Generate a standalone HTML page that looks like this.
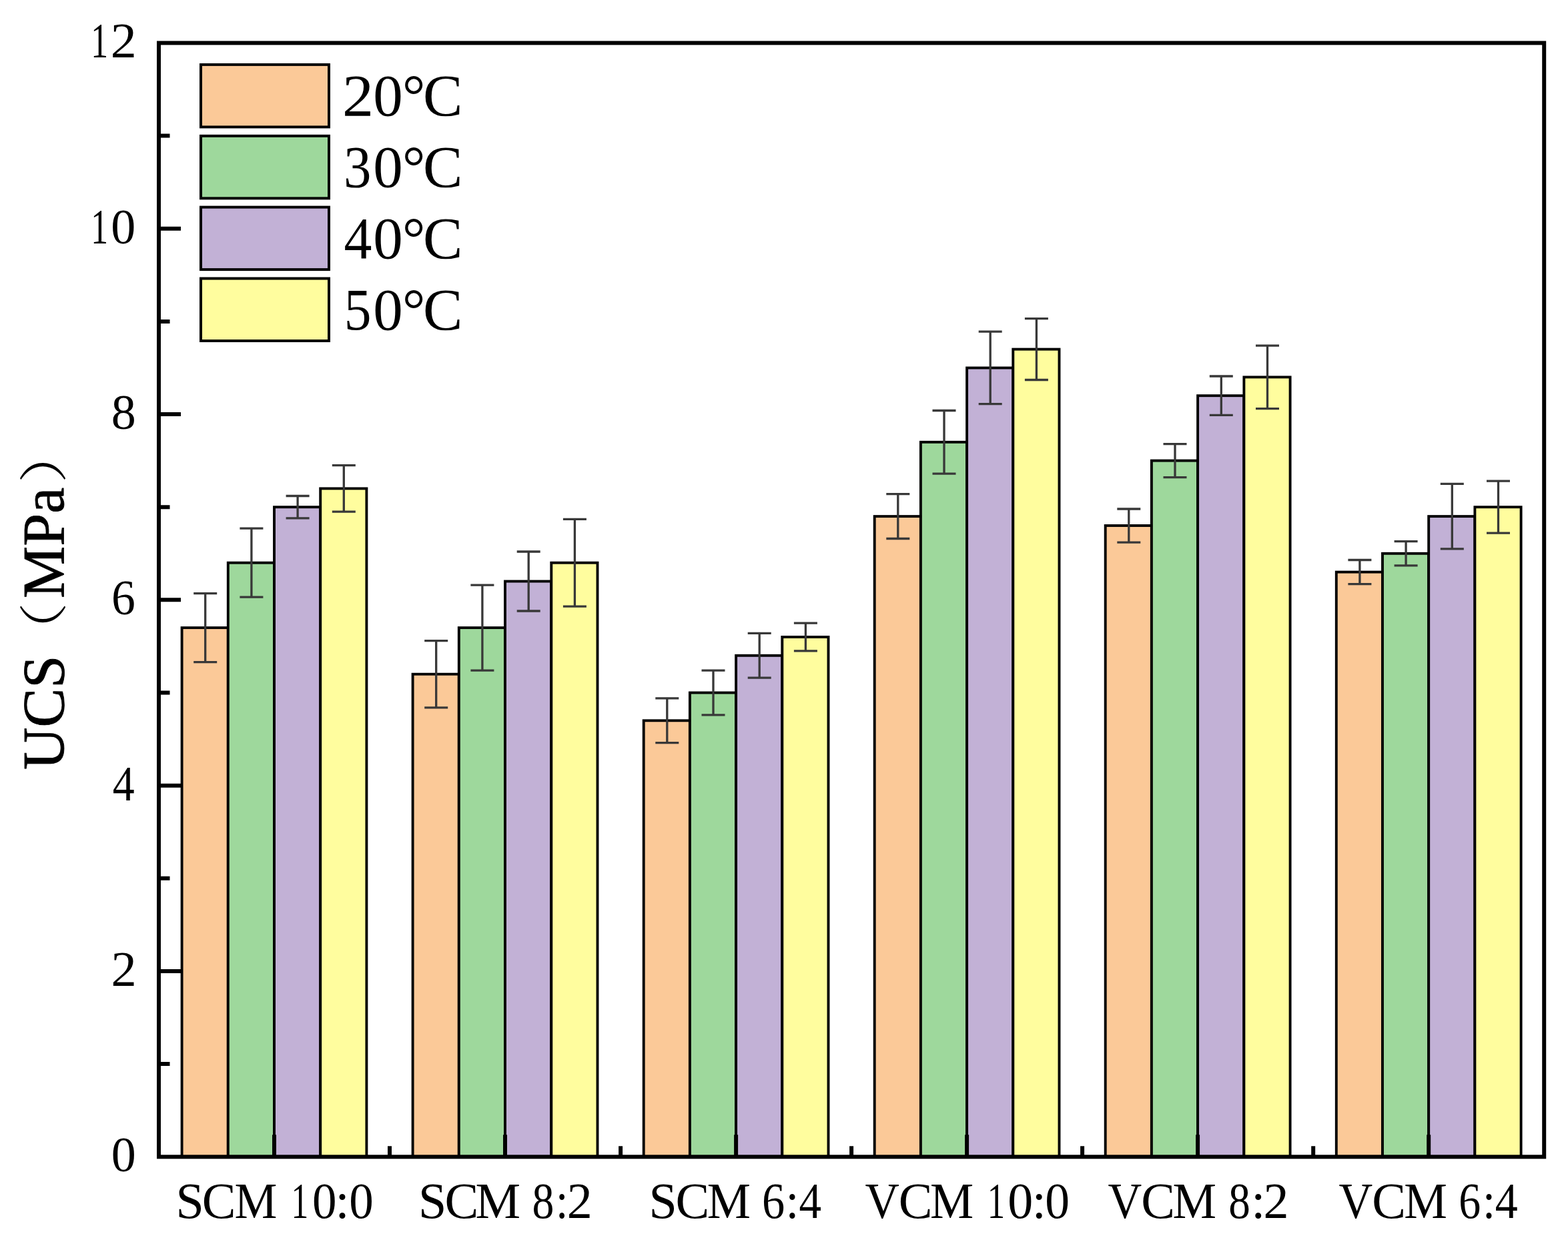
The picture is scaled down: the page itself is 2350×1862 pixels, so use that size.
<!DOCTYPE html>
<html><head><meta charset="utf-8"><title>UCS chart</title>
<style>html,body{margin:0;padding:0;background:#fff;width:2350px;height:1862px;overflow:hidden}svg{display:block}text{font-family:"Liberation Serif","Noto Serif CJK SC",serif;fill:#000}</style></head><body>
<svg width="2350" height="1862" viewBox="0 0 2350 1862">
<rect x="0" y="0" width="2350" height="1862" fill="#fff"/>
<g stroke="#000" stroke-width="3.9">
<rect x="272.6" y="941.1" width="69.2" height="793.2" fill="#fbc998"/>
<rect x="341.8" y="843.7" width="69.2" height="890.6" fill="#9ed89c"/>
<rect x="411.0" y="760.2" width="69.2" height="974.1" fill="#c2b1d6"/>
<rect x="480.2" y="732.4" width="69.2" height="1001.9" fill="#fffd9e"/>
<rect x="618.6" y="1010.7" width="69.2" height="723.6" fill="#fbc998"/>
<rect x="687.8" y="941.1" width="69.2" height="793.2" fill="#9ed89c"/>
<rect x="757.0" y="871.5" width="69.2" height="862.8" fill="#c2b1d6"/>
<rect x="826.3" y="843.7" width="69.2" height="890.6" fill="#fffd9e"/>
<rect x="964.7" y="1080.3" width="69.2" height="654.0" fill="#fbc998"/>
<rect x="1033.9" y="1038.5" width="69.2" height="695.8" fill="#9ed89c"/>
<rect x="1103.1" y="982.8" width="69.2" height="751.5" fill="#c2b1d6"/>
<rect x="1172.3" y="955.0" width="69.2" height="779.3" fill="#fffd9e"/>
<rect x="1310.7" y="774.1" width="69.2" height="960.2" fill="#fbc998"/>
<rect x="1379.9" y="662.8" width="69.2" height="1071.5" fill="#9ed89c"/>
<rect x="1449.1" y="551.5" width="69.2" height="1182.8" fill="#c2b1d6"/>
<rect x="1518.3" y="523.6" width="69.2" height="1210.7" fill="#fffd9e"/>
<rect x="1656.7" y="788.0" width="69.2" height="946.3" fill="#fbc998"/>
<rect x="1725.9" y="690.6" width="69.2" height="1043.7" fill="#9ed89c"/>
<rect x="1795.1" y="593.2" width="69.2" height="1141.1" fill="#c2b1d6"/>
<rect x="1864.4" y="565.4" width="69.2" height="1168.9" fill="#fffd9e"/>
<rect x="2002.8" y="857.6" width="69.2" height="876.7" fill="#fbc998"/>
<rect x="2072.0" y="829.8" width="69.2" height="904.5" fill="#9ed89c"/>
<rect x="2141.2" y="774.1" width="69.2" height="960.2" fill="#c2b1d6"/>
<rect x="2210.4" y="760.2" width="69.2" height="974.1" fill="#fffd9e"/>
</g>
<g stroke="#383838" stroke-width="3.3" fill="none">
<path d="M307.7 889.6V992.6M290.2 889.6H325.2M290.2 992.6H325.2"/>
<path d="M376.9 792.2V895.2M359.4 792.2H394.4M359.4 895.2H394.4"/>
<path d="M446.1 743.5V776.9M428.6 743.5H463.6M428.6 776.9H463.6"/>
<path d="M515.3 697.6V767.1M497.8 697.6H532.8M497.8 767.1H532.8"/>
<path d="M653.7 960.6V1060.8M636.2 960.6H671.2M636.2 1060.8H671.2"/>
<path d="M722.9 877.1V1005.1M705.4 877.1H740.4M705.4 1005.1H740.4"/>
<path d="M792.2 827.0V916.0M774.7 827.0H809.7M774.7 916.0H809.7"/>
<path d="M861.4 778.3V909.1M843.9 778.3H878.9M843.9 909.1H878.9"/>
<path d="M999.8 1046.9V1113.7M982.3 1046.9H1017.3M982.3 1113.7H1017.3"/>
<path d="M1069.0 1005.1V1071.9M1051.5 1005.1H1086.5M1051.5 1071.9H1086.5"/>
<path d="M1138.2 949.4V1016.2M1120.7 949.4H1155.7M1120.7 1016.2H1155.7"/>
<path d="M1207.4 934.1V975.9M1189.9 934.1H1224.9M1189.9 975.9H1224.9"/>
<path d="M1345.8 740.7V807.5M1328.3 740.7H1363.3M1328.3 807.5H1363.3"/>
<path d="M1415.0 615.5V710.1M1397.5 615.5H1432.5M1397.5 710.1H1432.5"/>
<path d="M1484.2 497.2V605.7M1466.7 497.2H1501.7M1466.7 605.7H1501.7"/>
<path d="M1553.4 477.7V569.5M1535.9 477.7H1570.9M1535.9 569.5H1570.9"/>
<path d="M1691.8 763.0V813.1M1674.3 763.0H1709.3M1674.3 813.1H1709.3"/>
<path d="M1761.0 665.6V715.7M1743.5 665.6H1778.5M1743.5 715.7H1778.5"/>
<path d="M1830.3 564.0V622.4M1812.8 564.0H1847.8M1812.8 622.4H1847.8"/>
<path d="M1899.5 518.1V612.7M1882.0 518.1H1917.0M1882.0 612.7H1917.0"/>
<path d="M2037.9 839.5V875.7M2020.4 839.5H2055.4M2020.4 875.7H2055.4"/>
<path d="M2107.1 811.7V847.9M2089.6 811.7H2124.6M2089.6 847.9H2124.6"/>
<path d="M2176.3 725.4V822.8M2158.8 725.4H2193.8M2158.8 822.8H2193.8"/>
<path d="M2245.5 721.2V799.2M2228.0 721.2H2263.0M2228.0 799.2H2263.0"/>
</g>
<g stroke="#000" stroke-width="6" fill="none">
<rect x="238.0" y="64.4" width="2076.2" height="1669.9"/>
<path d="M238.0 1595.1H254.5M238.0 1456.0H271.0M238.0 1316.8H254.5M238.0 1177.7H271.0M238.0 1038.5H254.5M238.0 899.3H271.0M238.0 760.2H254.5M238.0 621.0H271.0M238.0 481.9H254.5M238.0 342.7H271.0M238.0 203.6H254.5M411.0 1734.3V1701.3M757.0 1734.3V1701.3M1103.1 1734.3V1701.3M1449.1 1734.3V1701.3M1795.1 1734.3V1701.3M2141.2 1734.3V1701.3M584.0 1734.3V1718.3M930.1 1734.3V1718.3M1276.1 1734.3V1718.3M1622.1 1734.3V1718.3M1968.2 1734.3V1718.3"/>
</g>
<g font-size="74">
<text y="1756.2"><tspan x="166.8">0</tspan></text>
<text y="1477.9"><tspan x="166.6" textLength="38.2" lengthAdjust="spacingAndGlyphs">2</tspan></text>
<text y="1199.6"><tspan x="168.7" textLength="32.9" lengthAdjust="spacingAndGlyphs">4</tspan></text>
<text y="921.3"><tspan x="166.9" textLength="35.8" lengthAdjust="spacingAndGlyphs">6</tspan></text>
<text y="643.0"><tspan x="166.8">8</tspan></text>
<text y="364.6"><tspan x="136.3" textLength="25.8" lengthAdjust="spacingAndGlyphs">1</tspan><tspan x="166.3">0</tspan></text>
<text y="86.3"><tspan x="136.3" textLength="25.8" lengthAdjust="spacingAndGlyphs">1</tspan><tspan x="165.8" textLength="39.0" lengthAdjust="spacingAndGlyphs">2</tspan></text>
</g>
<g font-size="76">
<text y="1825.5"><tspan x="263.6">S</tspan><tspan x="302.7">C</tspan><tspan x="351.4" textLength="63.8" lengthAdjust="spacingAndGlyphs">M</tspan><tspan> </tspan><tspan x="436.4" textLength="25.8" lengthAdjust="spacingAndGlyphs">1</tspan><tspan x="467.9" textLength="36.5" lengthAdjust="spacingAndGlyphs">0</tspan><tspan x="502.6">:</tspan><tspan x="523.2" textLength="36.5" lengthAdjust="spacingAndGlyphs">0</tspan></text>
<text y="1825.5"><tspan x="626.9">S</tspan><tspan x="666.6">C</tspan><tspan x="712.5">M</tspan><tspan> </tspan><tspan x="797.4" textLength="32.9" lengthAdjust="spacingAndGlyphs">8</tspan><tspan x="833.0" textLength="18.4" lengthAdjust="spacingAndGlyphs">:</tspan><tspan x="849.8">2</tspan></text>
<text y="1825.5"><tspan x="972.6">S</tspan><tspan x="1012.6">C</tspan><tspan x="1059.7" textLength="65.3" lengthAdjust="spacingAndGlyphs">M</tspan><tspan> </tspan><tspan x="1142.0" textLength="34.2" lengthAdjust="spacingAndGlyphs">6</tspan><tspan x="1177.6" textLength="19.8" lengthAdjust="spacingAndGlyphs">:</tspan><tspan x="1197.5" textLength="33.5" lengthAdjust="spacingAndGlyphs">4</tspan></text>
<text y="1825.5"><tspan x="1296.6" textLength="51.3" lengthAdjust="spacingAndGlyphs">V</tspan><tspan x="1346.8">C</tspan><tspan x="1394.0" textLength="65.2" lengthAdjust="spacingAndGlyphs">M</tspan><tspan> </tspan><tspan x="1479.8" textLength="26.4" lengthAdjust="spacingAndGlyphs">1</tspan><tspan x="1510.3">0</tspan><tspan x="1546.7">:</tspan><tspan x="1566.2" textLength="36.8" lengthAdjust="spacingAndGlyphs">0</tspan></text>
<text y="1825.5"><tspan x="1660.6" textLength="50.7" lengthAdjust="spacingAndGlyphs">V</tspan><tspan x="1710.3">C</tspan><tspan x="1757.5" textLength="65.5" lengthAdjust="spacingAndGlyphs">M</tspan><tspan> </tspan><tspan x="1841.2" textLength="32.6" lengthAdjust="spacingAndGlyphs">8</tspan><tspan x="1875.3">:</tspan><tspan x="1893.4">2</tspan></text>
<text y="1825.5"><tspan x="2006.6" textLength="50.7" lengthAdjust="spacingAndGlyphs">V</tspan><tspan x="2056.2">C</tspan><tspan x="2104.2" textLength="64.7" lengthAdjust="spacingAndGlyphs">M</tspan><tspan> </tspan><tspan x="2186.2" textLength="33.0" lengthAdjust="spacingAndGlyphs">6</tspan><tspan x="2221.9" textLength="19.1" lengthAdjust="spacingAndGlyphs">:</tspan><tspan x="2240.8" textLength="34.0" lengthAdjust="spacingAndGlyphs">4</tspan></text>
</g>
<g stroke="#000" stroke-width="4">
<rect x="301" y="96.9" width="192" height="93.5" fill="#fbc998"/>
<rect x="301" y="203.8" width="192" height="93.5" fill="#9ed89c"/>
<rect x="301" y="310.6" width="192" height="93.5" fill="#c2b1d6"/>
<rect x="301" y="417.5" width="192" height="93.5" fill="#fffd9e"/>
</g>
<g font-size="89">
<text y="172.9"><tspan x="513.1" textLength="47.1" lengthAdjust="spacingAndGlyphs">2</tspan><tspan x="559.2">0</tspan><tspan x="603.0" textLength="34.4" lengthAdjust="spacingAndGlyphs">°</tspan><tspan x="633.9">C</tspan></text>
<text y="279.8"><tspan x="515.1" textLength="41.4" lengthAdjust="spacingAndGlyphs">3</tspan><tspan x="559.2">0</tspan><tspan x="603.0" textLength="34.4" lengthAdjust="spacingAndGlyphs">°</tspan><tspan x="633.9">C</tspan></text>
<text y="386.6"><tspan x="515.4" textLength="41.9" lengthAdjust="spacingAndGlyphs">4</tspan><tspan x="559.2">0</tspan><tspan x="603.0" textLength="34.4" lengthAdjust="spacingAndGlyphs">°</tspan><tspan x="633.9">C</tspan></text>
<text y="493.5"><tspan x="515.8" textLength="40.7" lengthAdjust="spacingAndGlyphs">5</tspan><tspan x="559.2">0</tspan><tspan x="603.0" textLength="34.4" lengthAdjust="spacingAndGlyphs">°</tspan><tspan x="633.9">C</tspan></text>
</g>
<g font-size="88" stroke="#000" stroke-width="0.8">
<text transform="translate(94.8 1154) rotate(-90)">UCS</text>
<text transform="translate(94.8 897) rotate(-90)">MPa</text>
</g>
<g font-size="73" font-weight="300" style="font-family:'Noto Serif CJK SC',serif">
<text transform="translate(91.5 990.6) rotate(-90) scale(1.2 1)">（</text>
<text transform="translate(91.5 724.4) rotate(-90) scale(1.2 1)">）</text>
</g>
</svg>
</body></html>
